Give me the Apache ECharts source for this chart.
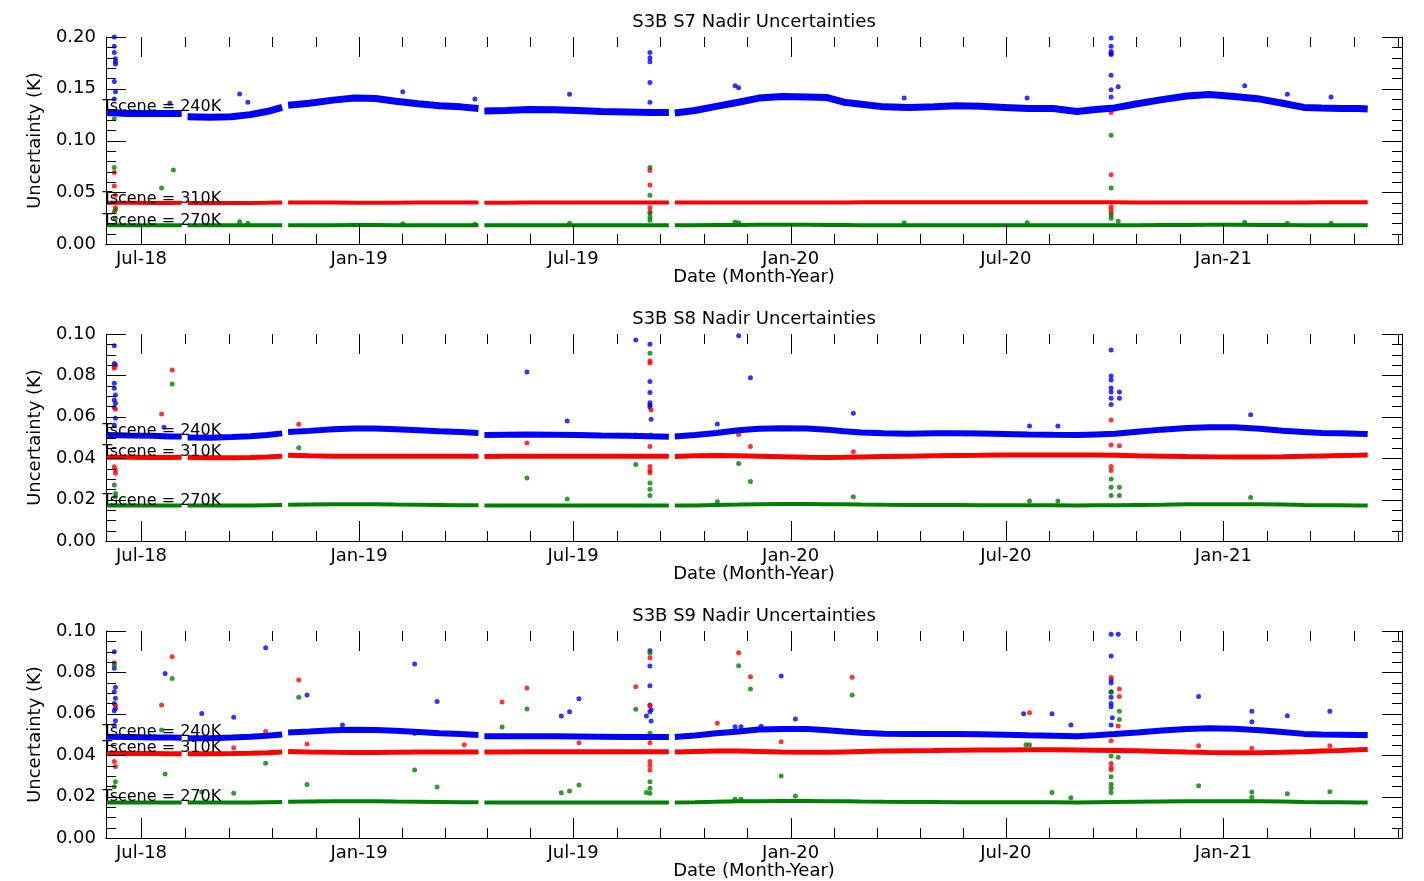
<!DOCTYPE html>
<html>
<head>
<meta charset="utf-8">
<script src="https://cdn.jsdelivr.net/npm/echarts@6/dist/echarts.min.js"></script>
<style>
  html, body { margin: 0; background: #fff; }
  #wrap { position: relative; width: 1424px; height: 881px; overflow: hidden; }
  .panel { position: absolute; left: 0; width: 1424px; height: 297px; }
</style>
</head>
<body>
<div id="wrap">
  <div id="p0" class="panel" style="top:0"></div>
  <div id="p1" class="panel" style="top:297px"></div>
  <div id="p2" class="panel" style="top:594px"></div>
</div>
<script>
// ---- data ----
const xMin = '2018-06-01';
const xMax = '2021-06-01';
const tickDates = ['2018-07-01', '2019-01-01', '2019-07-01', '2020-01-01', '2020-07-01', '2021-01-01'];
const monthNames = ['Jan', 'Feb', 'Mar', 'Apr', 'May', 'Jun', 'Jul', 'Aug', 'Sep', 'Oct', 'Nov', 'Dec'];

// sample dates along the daily bands, null rows are the data gaps
const bandDates = [
  '2018-06-02', '2018-06-20', '2018-07-10', '2018-07-25', '2018-08-04', '2018-08-06', '2018-08-09', '2018-08-28', '2018-09-15', '2018-10-01',
  '2018-10-15', '2018-10-28', '2018-10-30', '2018-11-02', '2018-11-20', '2018-12-10', '2018-12-28', '2019-01-15', '2019-02-01', '2019-02-20',
  '2019-03-10', '2019-03-28', '2019-04-12', '2019-04-14', '2019-04-17', '2019-05-05', '2019-05-25', '2019-06-15', '2019-07-05', '2019-07-25',
  '2019-08-15', '2019-09-05', '2019-09-20', '2019-09-22', '2019-09-25', '2019-10-12', '2019-10-30', '2019-11-18', '2019-12-05', '2019-12-25',
  '2020-01-15', '2020-02-01', '2020-02-15', '2020-03-01', '2020-03-20', '2020-04-10', '2020-05-01', '2020-05-20', '2020-06-10', '2020-06-30',
  '2020-07-20', '2020-08-10', '2020-08-30', '2020-09-15', '2020-10-01', '2020-10-20', '2020-11-10', '2020-12-01', '2020-12-20', '2021-01-10',
  '2021-02-01', '2021-02-20', '2021-03-10', '2021-03-25', '2021-04-10', '2021-04-25', '2021-05-03'
];

// S7
const s7Blue = [
  0.127, 0.126, 0.126, 0.126, 0.126, null, 0.123, 0.1225, 0.123, 0.125,
  0.128, 0.132, null, 0.134, 0.136, 0.139, 0.141, 0.1405, 0.138, 0.1355,
  0.1335, 0.1325, 0.131, null, 0.1285, 0.129, 0.130, 0.1298, 0.129, 0.128,
  0.1275, 0.127, 0.127, null, 0.1265, 0.129, 0.133, 0.137, 0.141, 0.1425,
  0.142, 0.1415, 0.137, 0.135, 0.1325, 0.132, 0.1325, 0.1335, 0.133, 0.132,
  0.131, 0.131, 0.128, 0.130, 0.1315, 0.1355, 0.1395, 0.143, 0.1445, 0.1425,
  0.140, 0.136, 0.132, 0.1315, 0.131, 0.131, 0.1305
];
const s7Red = [
  0.0398, 0.0398, 0.0397, 0.0397, 0.0398, null, 0.0397, 0.0396, 0.0396, 0.0397,
  0.0398, 0.0400, null, 0.0401, 0.0400, 0.0400, 0.0399, 0.0399, 0.0399, 0.0400,
  0.0400, 0.0400, 0.0401, null, 0.0399, 0.0399, 0.0400, 0.0400, 0.0400, 0.0400,
  0.0400, 0.0401, 0.0401, null, 0.0400, 0.0401, 0.0402, 0.0402, 0.0402, 0.0401,
  0.0401, 0.0401, 0.0402, 0.0403, 0.0403, 0.0403, 0.0403, 0.0404, 0.0404, 0.0404,
  0.0404, 0.0404, 0.0403, 0.0403, 0.0403, 0.0402, 0.0402, 0.0401, 0.0401, 0.0401,
  0.0401, 0.0402, 0.0402, 0.0403, 0.0403, 0.0404, 0.0404
];
const s7Green = [
  0.0180, 0.0180, 0.0180, 0.0180, 0.0180, null, 0.0180, 0.0180, 0.0180, 0.0181,
  0.0181, 0.0181, null, 0.0182, 0.0182, 0.0182, 0.0183, 0.0183, 0.0182, 0.0182,
  0.0181, 0.0181, 0.0181, null, 0.0180, 0.0180, 0.0180, 0.0180, 0.0181, 0.0181,
  0.0181, 0.0181, 0.0181, null, 0.0181, 0.0182, 0.0183, 0.0184, 0.0185, 0.0185,
  0.0185, 0.0184, 0.0183, 0.0182, 0.0182, 0.0181, 0.0181, 0.0181, 0.0181, 0.0181,
  0.0181, 0.0181, 0.0181, 0.0181, 0.0182, 0.0182, 0.0183, 0.0184, 0.0185, 0.0185,
  0.0184, 0.0183, 0.0182, 0.0182, 0.0181, 0.0181, 0.0181
];
const s7BlueOut = [
  ['2018-06-08', 0.200], ['2018-06-08', 0.191], ['2018-06-08', 0.185], ['2018-06-09', 0.179], ['2018-06-09', 0.176],
  ['2018-06-09', 0.174], ['2018-06-08', 0.157], ['2018-06-09', 0.147], ['2018-06-08', 0.140],
  ['2018-07-25', 0.136], ['2018-09-22', 0.145], ['2018-09-29', 0.137], ['2019-02-07', 0.147], ['2019-04-09', 0.140],
  ['2019-06-28', 0.1446], ['2019-09-04', 0.185], ['2019-09-04', 0.180], ['2019-09-04', 0.176], ['2019-09-04', 0.156],
  ['2019-09-04', 0.137], ['2019-11-15', 0.153], ['2019-11-18', 0.151], ['2020-04-06', 0.141], ['2020-07-19', 0.141],
  ['2020-09-28', 0.199], ['2020-09-28', 0.191], ['2020-09-28', 0.186], ['2020-09-28', 0.184], ['2020-09-28', 0.183],
  ['2020-09-28', 0.163], ['2020-09-28', 0.149], ['2020-09-28', 0.142], ['2020-10-04', 0.152],
  ['2021-01-19', 0.153], ['2021-02-24', 0.1446], ['2021-04-02', 0.142]
];
const s7RedOut = [
  ['2018-06-08', 0.069], ['2018-06-08', 0.056], ['2018-06-09', 0.047], ['2018-06-09', 0.035], ['2018-06-08', 0.031],
  ['2019-09-04', 0.071], ['2019-09-04', 0.057], ['2019-09-04', 0.035], ['2019-09-04', 0.031],
  ['2020-09-28', 0.127], ['2020-09-28', 0.067], ['2020-09-28', 0.036], ['2020-09-28', 0.033], ['2020-09-28', 0.030]
];
const s7GreenOut = [
  ['2018-06-08', 0.121], ['2018-06-08', 0.074], ['2018-06-09', 0.033], ['2018-06-09', 0.025], ['2018-07-18', 0.054],
  ['2018-07-28', 0.0715], ['2018-09-22', 0.0216], ['2018-09-29', 0.020], ['2019-02-07', 0.0195], ['2019-04-09', 0.0192],
  ['2019-06-28', 0.020], ['2019-09-04', 0.128], ['2019-09-04', 0.074], ['2019-09-04', 0.047], ['2019-09-04', 0.030],
  ['2019-09-04', 0.026], ['2019-09-04', 0.023], ['2019-11-15', 0.021], ['2019-11-18', 0.0205], ['2020-04-06', 0.0205],
  ['2020-07-19', 0.0205], ['2020-09-28', 0.105], ['2020-09-28', 0.054], ['2020-09-28', 0.028], ['2020-09-28', 0.025],
  ['2020-10-04', 0.022], ['2021-01-19', 0.021], ['2021-02-24', 0.020], ['2021-04-02', 0.020]
];
const s7LabelY = [0.1324, 0.0435, 0.0222];

// S8
const s8Blue = [
  0.0512, 0.0510, 0.0508, 0.0505, 0.0505, null, 0.0500, 0.0499, 0.0502, 0.0506,
  0.0512, 0.0520, null, 0.0526, 0.0532, 0.0540, 0.0544, 0.0544, 0.0540, 0.0535,
  0.0530, 0.0526, 0.0522, null, 0.0512, 0.0513, 0.0514, 0.0513, 0.0512, 0.0510,
  0.0509, 0.0506, 0.0504, null, 0.0505, 0.0512, 0.0522, 0.0535, 0.0542, 0.0545,
  0.0544, 0.0538, 0.0530, 0.0524, 0.0520, 0.0518, 0.0520, 0.0521, 0.0519, 0.0517,
  0.0515, 0.0513, 0.0512, 0.0515, 0.0518, 0.0528, 0.0538, 0.0546, 0.0550, 0.0549,
  0.0542, 0.0533, 0.0526, 0.0522, 0.0520, 0.0518, 0.0517
];
const s8Red = [
  0.0404, 0.0404, 0.0403, 0.0403, 0.0404, null, 0.0403, 0.0402, 0.0402, 0.0403,
  0.0406, 0.0410, null, 0.0414, 0.0412, 0.0410, 0.0409, 0.0409, 0.0410, 0.0410,
  0.0410, 0.0410, 0.0410, null, 0.0408, 0.0409, 0.0410, 0.0410, 0.0410, 0.0410,
  0.0410, 0.0410, 0.0410, null, 0.0408, 0.0412, 0.0413, 0.0412, 0.0410, 0.0407,
  0.0404, 0.0403, 0.0404, 0.0406, 0.0408, 0.0410, 0.0412, 0.0413, 0.0414, 0.0415,
  0.0416, 0.0416, 0.0416, 0.0415, 0.0414, 0.0412, 0.0410, 0.0408, 0.0407, 0.0406,
  0.0406, 0.0407, 0.0409, 0.0411, 0.0413, 0.0414, 0.0415
];
const s8Green = [
  0.0172, 0.0172, 0.0171, 0.0171, 0.0171, null, 0.0171, 0.0171, 0.0171, 0.0172,
  0.0173, 0.0174, null, 0.0175, 0.0176, 0.0177, 0.0177, 0.0177, 0.0176, 0.0175,
  0.0174, 0.0173, 0.0173, null, 0.0172, 0.0172, 0.0172, 0.0172, 0.0172, 0.0171,
  0.0171, 0.0171, 0.0171, null, 0.0171, 0.0172, 0.0174, 0.0176, 0.0178, 0.0179,
  0.0179, 0.0178, 0.0177, 0.0176, 0.0175, 0.0174, 0.0174, 0.0174, 0.0173, 0.0173,
  0.0173, 0.0173, 0.0172, 0.0173, 0.0173, 0.0174, 0.0175, 0.0177, 0.0178, 0.0178,
  0.0177, 0.0176, 0.0174, 0.0173, 0.0173, 0.0172, 0.0172
];
const s8BlueOut = [
  ['2018-06-08', 0.0943], ['2018-06-08', 0.0858], ['2018-06-09', 0.085], ['2018-06-08', 0.0762], ['2018-06-08', 0.0738],
  ['2018-06-09', 0.0705], ['2018-06-08', 0.0681], ['2018-06-09', 0.0665], ['2018-06-08', 0.0646], ['2018-06-09', 0.0593],
  ['2018-06-08', 0.056], ['2018-07-20', 0.055], ['2019-05-23', 0.0816], ['2019-06-26', 0.058], ['2019-08-23', 0.0971],
  ['2019-09-04', 0.095], ['2019-09-04', 0.077], ['2019-09-04', 0.0717], ['2019-09-04', 0.0668], ['2019-09-04', 0.0657],
  ['2019-09-04', 0.0646], ['2019-09-05', 0.0588], ['2019-10-31', 0.0565], ['2019-11-18', 0.0992], ['2019-11-28', 0.0789],
  ['2020-02-23', 0.0617], ['2020-07-21', 0.0556], ['2020-08-14', 0.0556], ['2020-09-28', 0.0923], ['2020-09-28', 0.0797],
  ['2020-09-28', 0.0778], ['2020-09-28', 0.0739], ['2020-09-28', 0.072], ['2020-09-28', 0.069], ['2020-09-28', 0.066],
  ['2020-10-05', 0.072], ['2020-10-05', 0.069], ['2021-01-24', 0.061]
];
const s8RedOut = [
  ['2018-06-08', 0.0842], ['2018-06-08', 0.0834], ['2018-06-09', 0.0636], ['2018-06-08', 0.0359], ['2018-06-09', 0.0343],
  ['2018-06-09', 0.0327], ['2018-07-18', 0.0614], ['2018-07-27', 0.0826], ['2018-11-11', 0.0564], ['2019-05-23', 0.0473],
  ['2019-08-23', 0.0512], ['2019-09-04', 0.087], ['2019-09-04', 0.086], ['2019-09-05', 0.0633], ['2019-09-04', 0.0456],
  ['2019-09-04', 0.036], ['2019-09-04', 0.034], ['2019-09-04', 0.033], ['2019-11-18', 0.0515], ['2019-11-28', 0.0456],
  ['2020-02-23', 0.0431], ['2020-09-28', 0.0585], ['2020-09-28', 0.0464], ['2020-09-28', 0.036], ['2020-09-28', 0.034],
  ['2020-10-05', 0.046]
];
const s8GreenOut = [
  ['2018-06-08', 0.0512], ['2018-06-08', 0.027], ['2018-06-09', 0.023], ['2018-06-09', 0.0214], ['2018-07-18', 0.051],
  ['2018-07-27', 0.0758], ['2018-11-11', 0.045], ['2019-05-23', 0.0304], ['2019-06-26', 0.0203], ['2019-08-23', 0.037],
  ['2019-09-04', 0.0907], ['2019-09-05', 0.0512], ['2019-09-04', 0.028], ['2019-09-04', 0.025], ['2019-09-04', 0.022],
  ['2019-10-31', 0.019], ['2019-11-18', 0.0375], ['2019-11-28', 0.0287], ['2020-02-23', 0.0214], ['2020-07-21', 0.0193],
  ['2020-08-14', 0.0193], ['2020-09-28', 0.030], ['2020-09-28', 0.026], ['2020-09-28', 0.022], ['2020-10-05', 0.026],
  ['2020-10-05', 0.022], ['2021-01-24', 0.021]
];
const s8LabelY = [0.0531, 0.0430, 0.0193];

// S9
const s9Blue = [
  0.0489, 0.0488, 0.0486, 0.0485, 0.0484, null, 0.0482, 0.0482, 0.0485, 0.0489,
  0.0494, 0.0500, null, 0.0510, 0.0514, 0.0520, 0.0523, 0.0522, 0.0518, 0.0512,
  0.0506, 0.0502, 0.0498, null, 0.0492, 0.0492, 0.0492, 0.0491, 0.0490, 0.0489,
  0.0488, 0.0488, 0.0488, null, 0.0488, 0.0495, 0.0506, 0.0515, 0.0524, 0.0527,
  0.0526, 0.0521, 0.0514, 0.0508, 0.0504, 0.0502, 0.0503, 0.0503, 0.0501, 0.0499,
  0.0496, 0.0494, 0.0491, 0.0496, 0.0502, 0.0510, 0.0519, 0.0527, 0.0530, 0.0528,
  0.0521, 0.0512, 0.0503, 0.0500, 0.0499, 0.0498, 0.0498
];
const s9Red = [
  0.0408, 0.0408, 0.0408, 0.0407, 0.0407, null, 0.0407, 0.0407, 0.0408, 0.0409,
  0.0412, 0.0416, null, 0.0418, 0.0416, 0.0414, 0.0413, 0.0413, 0.0414, 0.0415,
  0.0416, 0.0416, 0.0416, null, 0.0415, 0.0416, 0.0417, 0.0417, 0.0417, 0.0417,
  0.0417, 0.0417, 0.0417, null, 0.0415, 0.0418, 0.0420, 0.0420, 0.0418, 0.0415,
  0.0414, 0.0414, 0.0416, 0.0418, 0.0420, 0.0422, 0.0423, 0.0424, 0.0425, 0.0425,
  0.0426, 0.0426, 0.0425, 0.0424, 0.0423, 0.0421, 0.0418, 0.0415, 0.0413, 0.0412,
  0.0412, 0.0414, 0.0417, 0.0420, 0.0423, 0.0426, 0.0428
];
const s9Green = [
  0.0172, 0.0172, 0.0172, 0.0171, 0.0171, null, 0.0171, 0.0171, 0.0171, 0.0172,
  0.0173, 0.0174, null, 0.0175, 0.0176, 0.0177, 0.0177, 0.0177, 0.0176, 0.0175,
  0.0174, 0.0173, 0.0173, null, 0.0172, 0.0172, 0.0172, 0.0172, 0.0172, 0.0172,
  0.0172, 0.0172, 0.0172, null, 0.0172, 0.0173, 0.0175, 0.0177, 0.0178, 0.0179,
  0.0179, 0.0178, 0.0177, 0.0176, 0.0175, 0.0174, 0.0174, 0.0173, 0.0173, 0.0173,
  0.0173, 0.0173, 0.0172, 0.0173, 0.0174, 0.0175, 0.0176, 0.0177, 0.0178, 0.0178,
  0.0177, 0.0176, 0.0174, 0.0173, 0.0173, 0.0172, 0.0172
];
const s9BlueOut = [
  ['2018-06-08', 0.090], ['2018-06-08', 0.082], ['2018-06-09', 0.0728], ['2018-06-08', 0.0707], ['2018-06-09', 0.0675],
  ['2018-06-08', 0.065], ['2018-06-09', 0.0627], ['2018-06-08', 0.0615], ['2018-06-09', 0.0567], ['2018-06-08', 0.0543],
  ['2018-07-21', 0.0795], ['2018-08-21', 0.0602], ['2018-09-17', 0.0583], ['2018-10-14', 0.0919], ['2018-11-18', 0.0691],
  ['2018-12-18', 0.0546], ['2019-02-17', 0.084], ['2019-03-08', 0.066], ['2019-06-21', 0.0589], ['2019-06-28', 0.061],
  ['2019-07-06', 0.0673], ['2019-09-01', 0.0589], ['2019-09-04', 0.0905], ['2019-09-04', 0.0831], ['2019-09-04', 0.0736],
  ['2019-09-04', 0.0643], ['2019-09-05', 0.062], ['2019-09-04', 0.061], ['2019-09-05', 0.0565], ['2019-11-15', 0.0538],
  ['2019-11-20', 0.0538], ['2019-12-07', 0.054], ['2019-12-24', 0.0783], ['2020-01-05', 0.0575], ['2020-07-16', 0.060],
  ['2020-08-09', 0.060], ['2020-08-25', 0.0546], ['2020-09-28', 0.0984], ['2020-09-28', 0.0879], ['2020-09-28', 0.0763],
  ['2020-09-28', 0.0749], ['2020-09-28', 0.0707], ['2020-09-28', 0.068], ['2020-09-28', 0.065], ['2020-09-28', 0.0634],
  ['2020-09-29', 0.0581], ['2020-09-28', 0.0546], ['2020-10-04', 0.0984], ['2020-12-11', 0.0684], ['2021-01-25', 0.0612],
  ['2021-01-25', 0.0562], ['2021-02-24', 0.0591], ['2021-04-01', 0.0612]
];
const s9RedOut = [
  ['2018-06-08', 0.0847], ['2018-06-09', 0.0643], ['2018-06-08', 0.0369], ['2018-06-09', 0.0345], ['2018-07-18', 0.0643],
  ['2018-07-21', 0.0486], ['2018-07-27', 0.0876], ['2018-09-17', 0.0436], ['2018-10-14', 0.0514], ['2018-11-11', 0.0763],
  ['2018-11-18', 0.0454], ['2019-02-17', 0.0505], ['2019-03-31', 0.045], ['2019-05-02', 0.0657], ['2019-05-23', 0.0725],
  ['2019-07-06', 0.046], ['2019-08-23', 0.0731], ['2019-09-04', 0.0871], ['2019-09-04', 0.0638], ['2019-09-04', 0.046],
  ['2019-09-04', 0.0369], ['2019-09-04', 0.035], ['2019-09-04', 0.0329], ['2019-10-31', 0.0554], ['2019-11-18', 0.0895],
  ['2019-11-28', 0.0779], ['2019-12-24', 0.0465], ['2020-02-22', 0.0776], ['2020-07-21', 0.0605], ['2020-09-28', 0.0775],
  ['2020-09-28', 0.047], ['2020-09-28', 0.036], ['2020-09-28', 0.034], ['2020-09-28', 0.033], ['2020-10-05', 0.072],
  ['2020-10-05', 0.0683], ['2020-10-04', 0.0541], ['2020-12-11', 0.0446], ['2021-01-25', 0.0433], ['2021-04-01', 0.0446]
];
const s9GreenOut = [
  ['2018-06-08', 0.0836], ['2018-06-09', 0.0272], ['2018-06-08', 0.0248], ['2018-07-18', 0.0522], ['2018-07-21', 0.0309],
  ['2018-07-27', 0.0771], ['2018-08-21', 0.0224], ['2018-09-17', 0.0216], ['2018-10-14', 0.0361], ['2018-11-11', 0.068],
  ['2018-11-18', 0.0259], ['2019-02-17', 0.0329], ['2019-03-08', 0.0246], ['2019-05-02', 0.0536], ['2019-05-23', 0.0623],
  ['2019-06-21', 0.0219], ['2019-06-28', 0.0227], ['2019-07-06', 0.0256], ['2019-08-23', 0.0622], ['2019-09-04', 0.0894],
  ['2019-09-04', 0.0506], ['2019-09-04', 0.0272], ['2019-09-04', 0.024], ['2019-09-04', 0.0216], ['2019-09-01', 0.022],
  ['2019-11-15', 0.0187], ['2019-11-18', 0.0832], ['2019-11-20', 0.0187], ['2019-11-28', 0.072], ['2019-12-24', 0.030],
  ['2020-01-05', 0.0203], ['2020-02-22', 0.0691], ['2020-07-18', 0.045], ['2020-07-21', 0.045], ['2020-08-09', 0.022],
  ['2020-08-25', 0.0195], ['2020-09-28', 0.0704], ['2020-09-28', 0.0396], ['2020-09-28', 0.0296], ['2020-09-28', 0.026],
  ['2020-09-28', 0.024], ['2020-09-28', 0.022], ['2020-10-05', 0.0612], ['2020-10-05', 0.0573], ['2020-10-04', 0.039],
  ['2020-12-11', 0.0253], ['2021-01-25', 0.0222], ['2021-01-25', 0.0197], ['2021-02-24', 0.0214], ['2021-04-01', 0.0224]
];
const s9LabelY = [0.0512, 0.0435, 0.0198];

const sceneLabels = ['Tscene = 240K', 'Tscene = 310K', 'Tscene = 270K'];

// ---- chart ----
const BLUE = '#0000ff', RED = '#ff0000', GREEN = '#008000';
const FONT = 'DejaVu Sans';
const MAJOR_LEN = 20, MINOR_LEN = 10;

const panels = [
  { title: 'S3B S7 Nadir Uncertainties', yMax: 0.2, yStep: 0.05, minorSplit: 5,
    bands: [[s7Blue, BLUE, 7], [s7Red, RED, 4], [s7Green, GREEN, 4]],
    spots: [[s7BlueOut, BLUE], [s7RedOut, RED], [s7GreenOut, GREEN]], labelY: s7LabelY },
  { title: 'S3B S8 Nadir Uncertainties', yMax: 0.1, yStep: 0.02, minorSplit: 4,
    bands: [[s8Blue, BLUE, 6], [s8Red, RED, 5], [s8Green, GREEN, 4]],
    spots: [[s8BlueOut, BLUE], [s8RedOut, RED], [s8GreenOut, GREEN]], labelY: s8LabelY },
  { title: 'S3B S9 Nadir Uncertainties', yMax: 0.1, yStep: 0.02, minorSplit: 4,
    bands: [[s9Blue, BLUE, 6], [s9Red, RED, 5], [s9Green, GREEN, 4]],
    spots: [[s9BlueOut, BLUE], [s9RedOut, RED], [s9GreenOut, GREEN]], labelY: s9LabelY }
];

// dates go on a plain value axis as local timestamps
function ts(s) {
  const p = s.split('-').map(Number);
  return new Date(p[0], p[1] - 1, p[2]).getTime();
}

// major ticks at the labelled months, minor ticks split each step in 5
const majorTicks = tickDates.map(ts);
const minorTicks = [];
for (let i = 0; i < majorTicks.length; i++) {
  const next = i < majorTicks.length - 1 ? majorTicks[i + 1] : null;
  const step = next ? (next - majorTicks[i]) / 5 : (majorTicks[i] - majorTicks[i - 1]) / 5;
  for (let k = 1; k < 5; k++) {
    const v = majorTicks[i] + k * step;
    if (v < ts(xMax)) minorTicks.push(v);
  }
}

function dateLabel(v) {
  const d = new Date(v);
  return monthNames[d.getMonth()] + '-' + String(d.getFullYear()).slice(2);
}

const axisLine = { show: true, lineStyle: { color: '#000', width: 1 } };
const txt = { color: '#000', fontFamily: FONT, fontSize: 18 };
const tickLine = { stroke: '#000', lineWidth: 1 };

// one custom series draws all inward ticks: rows before nX are date ticks,
// the rest are value ticks; each row is [tick value, tick length]
function tickRenderer(nX) {
  const x0 = ts(xMin);
  return function (params, api) {
    const cs = params.coordSys;
    const v = api.value(0), len = api.value(1);
    if (params.dataIndex < nX) {
      const x = Math.round(api.coord([v, 0])[0]) + 0.5;
      return { type: 'group', children: [
        { type: 'line', shape: { x1: x, y1: cs.y + cs.height, x2: x, y2: cs.y + cs.height - len }, style: tickLine },
        { type: 'line', shape: { x1: x, y1: cs.y, x2: x, y2: cs.y + len }, style: tickLine }
      ] };
    }
    const y = Math.round(api.coord([x0, v])[1]) + 0.5;
    return { type: 'group', children: [
      { type: 'line', shape: { x1: cs.x, y1: y, x2: cs.x + len, y2: y }, style: tickLine },
      { type: 'line', shape: { x1: cs.x + cs.width, y1: y, x2: cs.x + cs.width - len, y2: y }, style: tickLine }
    ] };
  };
}

function panelOption(p) {
  const series = [];
  const xAxis = ['bottom', 'top'].map(pos => ({
    type: 'value', position: pos, min: ts(xMin), max: ts(xMax), scale: true,
    axisLine: axisLine,
    axisTick: { show: false },
    axisLabel: Object.assign({ show: pos === 'bottom', customValues: majorTicks, formatter: dateLabel, margin: 6 }, txt),
    splitLine: { show: false },
    name: pos === 'bottom' ? 'Date (Month-Year)' : '',
    nameLocation: 'middle', nameGap: 24, nameMoveOverlap: false, nameTextStyle: txt
  }));
  const yAxis = ['left', 'right'].map(pos => ({
    type: 'value', position: pos, min: 0, max: p.yMax, interval: p.yStep,
    axisLine: axisLine,
    axisTick: { show: false },
    axisLabel: Object.assign({ show: pos === 'left', margin: 10, formatter: v => v.toFixed(2) }, txt),
    splitLine: { show: false },
    name: pos === 'left' ? 'Uncertainty (K)' : '',
    nameLocation: 'middle', nameGap: 62, nameRotate: 90, nameTextStyle: txt
  }));

  p.bands.forEach(([vals, color, width]) => {
    series.push({
      type: 'line', symbol: 'none', connectNulls: false,
      lineStyle: { color: color, width: width, cap: 'butt' },
      data: bandDates.map((d, k) => [ts(d), vals[k] == null ? '-' : vals[k]])
    });
  });
  p.spots.forEach(([pts, color]) => {
    series.push({
      type: 'scatter', symbolSize: 5,
      itemStyle: { color: color },
      data: pts.map(([d, v]) => [ts(d), v])
    });
  });
  series.push({
    type: 'scatter', symbolSize: 1, z: 10, silent: true,
    itemStyle: { color: 'transparent' },
    label: {
      show: true, position: 'right', distance: 0, offset: [-4, 0], opacity: 1,
      formatter: params => sceneLabels[params.dataIndex],
      color: '#000', fontFamily: FONT, fontSize: 16
    },
    data: p.labelY.map(v => [ts(xMin), v])
  });

  // tick marks
  const xTicks = majorTicks.map(v => [v, MAJOR_LEN]).concat(minorTicks.map(v => [v, MINOR_LEN]));
  const nMinor = Math.round(p.yMax / p.yStep * p.minorSplit);
  const yTicks = [];
  for (let k = 0; k <= nMinor; k++) {
    yTicks.push([k * p.yMax / nMinor, k % p.minorSplit === 0 ? MAJOR_LEN : MINOR_LEN]);
  }
  series.push({
    type: 'custom', silent: true, clip: false, z: 5,
    renderItem: tickRenderer(xTicks.length), encode: { x: 0, y: 1 },
    data: xTicks.concat(yTicks)
  });

  return {
    animation: false,
    title: {
      text: p.title, left: 754, top: 13, padding: 0, textAlign: 'center',
      textStyle: { fontFamily: FONT, fontSize: 18, fontWeight: 'normal', color: '#000' }
    },
    grid: { left: 106, right: 22, top: 37, height: 207 },
    xAxis: xAxis,
    yAxis: yAxis,
    series: series
  };
}

panels.forEach((p, i) => {
  const chart = echarts.init(document.getElementById('p' + i));
  chart.setOption(panelOption(p));
});
</script>
</body>
</html>
